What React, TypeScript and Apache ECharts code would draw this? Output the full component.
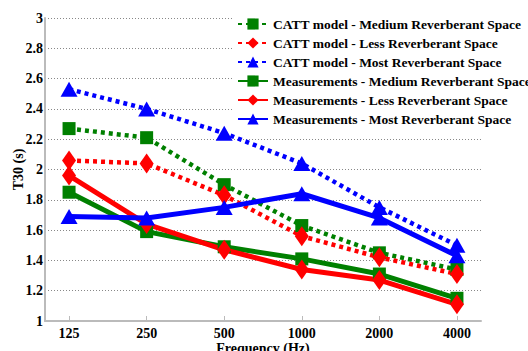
import React, { useEffect, useRef } from "react";
import * as echarts from "echarts";

const categories = ["125", "250", "500", "1000", "2000", "4000"];
const yTicks = [1, 3, 0.2];

const cattMedium = [2.27, 2.21, 1.9, 1.63, 1.45, 1.34];
const cattLess = [2.06, 2.04, 1.83, 1.56, 1.42, 1.31];
const cattMost = [2.53, 2.4, 2.24, 2.04, 1.75, 1.5];
const measMedium = [1.85, 1.59, 1.49, 1.41, 1.31, 1.15];
const measLess = [1.96, 1.64, 1.47, 1.34, 1.27, 1.11];
const measMost = [1.69, 1.68, 1.75, 1.84, 1.68, 1.43];

const seriesNames = [
  "CATT model - Medium Reverberant Space",
  "CATT model - Less Reverberant Space",
  "CATT model - Most Reverberant Space",
  "Measurements - Medium Reverberant Space",
  "Measurements - Less Reverberant Space",
  "Measurements - Most Reverberant Space",
];

const FONT = "Times New Roman";

export default function App() {
  const ref = useRef<HTMLDivElement>(null);
  useEffect(() => {
    if (!ref.current) return;
    const chart = echarts.init(ref.current, undefined, { renderer: "svg" });
    const idx = categories.map((_, i) => i);
    const mk = (
      name: string,
      vals: number[],
      color: string,
      symbol: string,
      size: number | number[],
      dotted: boolean
    ) => ({
      name,
      type: "line",
      data: vals.map((v, i) => [i, v]),
      symbol,
      symbolSize: size,
      showAllSymbol: true,
      itemStyle: { color },
      lineStyle: dotted
        ? { color, width: 4.5, type: [4, 4] }
        : { color, width: 5, type: "solid" },
    });
    chart.setOption({
      animation: false,
      backgroundColor: "#ffffff",
      grid: { left: 45, right: 47, top: 18, bottom: 30, outerBoundsMode: "none", containLabel: false },
      legend: {
        orient: "vertical",
        left: 233,
        top: 13,
        padding: [4, 2, 4, 4],
        backgroundColor: "#ffffff",
        itemWidth: 30,
        itemHeight: 14,
        itemGap: 5,
        textStyle: { fontFamily: FONT, fontWeight: "bold", fontSize: 13.5, color: "#000" },
        data: seriesNames,
      },
      xAxis: {
        type: "value",
        min: -0.31,
        max: 5.31,
        name: "Frequency (Hz)",
        nameLocation: "middle",
        nameGap: 20,
        nameMoveOverlap: false,
        nameTextStyle: { fontFamily: FONT, fontWeight: "bold", fontSize: 14, color: "#000", verticalAlign: "top" },
        axisLine: { show: true, onZero: false, lineStyle: { color: "#bbbbbb", width: 2 } },
        axisTick: { show: true, inside: true, length: 5, customValues: idx, lineStyle: { color: "#bbbbbb" } },
        axisLabel: {
          customValues: idx,
          formatter: (v: number) => categories[Math.round(v)],
          fontFamily: FONT,
          fontWeight: "bold",
          fontSize: 14,
          color: "#000",
          margin: 5,
        },
        splitLine: { show: false },
      },
      yAxis: {
        type: "value",
        min: yTicks[0],
        max: yTicks[1],
        interval: yTicks[2],
        name: "T30 (s)",
        nameLocation: "middle",
        nameGap: 20,
        nameMoveOverlap: false,
        nameTextStyle: { fontFamily: FONT, fontWeight: "bold", fontSize: 14, color: "#000" },
        axisLine: { show: true, onZero: false, lineStyle: { color: "#bbbbbb", width: 2 } },
        axisTick: { show: false },
        axisLabel: {
          fontFamily: FONT,
          fontWeight: "bold",
          fontSize: 14,
          color: "#000",
          margin: 2,
          formatter: (v: number) => String(Math.round(v * 10) / 10),
        },
        splitLine: { show: true, lineStyle: { color: "#888888", type: [1, 2], width: 1 } },
      },
      series: [
        mk(seriesNames[0], cattMedium, "#008000", "rect", 13, true),
        mk(seriesNames[1], cattLess, "#ff0000", "diamond", [14, 20], true),
        mk(seriesNames[2], cattMost, "#0000ff", "triangle", [17, 15], true),
        mk(seriesNames[3], measMedium, "#008000", "rect", 13, false),
        mk(seriesNames[4], measLess, "#ff0000", "diamond", [14, 20], false),
        mk(seriesNames[5], measMost, "#0000ff", "triangle", [17, 15], false),
      ],
    });
    return () => chart.dispose();
  }, []);
  return (
    <div
      ref={ref}
      style={{ position: "fixed", left: 0, top: 0, width: 528, height: 351 }}
    />
  );
}
